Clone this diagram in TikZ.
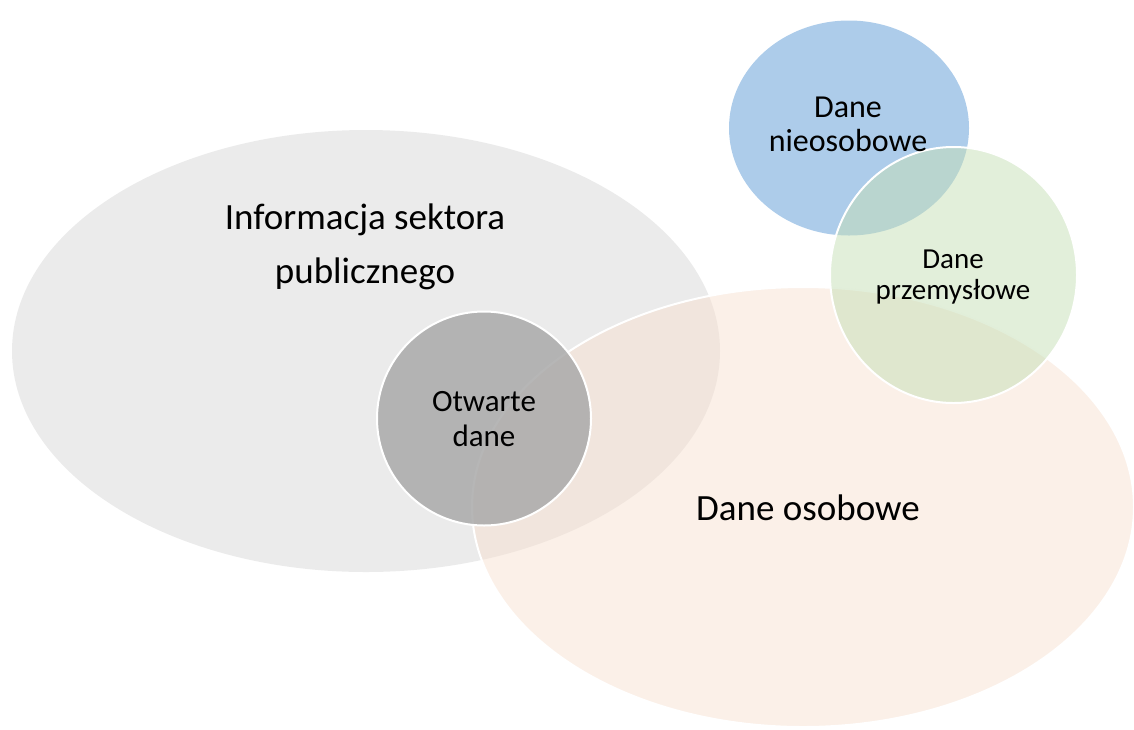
\documentclass[tikz,border=0pt]{standalone}
\usepackage{fontspec}
\setmainfont{Carlito}
\usetikzlibrary{shapes.geometric}
\definecolor{greyfill}{RGB}{235,235,235}
\definecolor{peachfill}{RGB}{247,225,209}
\definecolor{openfill}{RGB}{170,170,170}
\definecolor{bluefill}{RGB}{173,204,234}
\definecolor{greenfill}{RGB}{197,223,181}
\tikzset{
  blob/.style={ellipse, inner sep=0pt, outer sep=0pt, line width=2pt},
  lbl/.style={anchor=base, inner sep=0pt, text=black},
}
\newcommand{\lines}[3]{{\fontsize{#1}{#2}\selectfont\setlength{\tabcolsep}{0pt}\begin{tabular}[t]{c}#3\end{tabular}}}
\begin{document}
\begin{tikzpicture}[x=1pt,y=-1pt]
\useasboundingbox (0,0) rectangle (1134,729);
\node[blob, fill=greyfill, minimum width=708pt, minimum height=442pt] (isp) at (366,351) {};
\node[blob, fill=peachfill, fill opacity=0.5, draw=white, minimum width=662pt, minimum height=440pt] (osob) at (803,507) {};
\node[blob, fill=openfill, fill opacity=0.85, draw=white, minimum width=214pt, minimum height=214pt] (otw) at (484,418.5) {};
\node[blob, fill=bluefill, minimum width=240pt, minimum height=215pt] (nieos) at (849,128) {};
\node[blob, fill=greenfill, fill opacity=0.5, draw=white, minimum width=247pt, minimum height=256pt] (przem) at (953.5,275) {};
\node[lbl] (tisp) at (365,229) {\lines{37}{54}{Informacja sektora\\publicznego}};
\node[lbl] (tosob) at (808,520) {\lines{37}{47}{Dane osobowe}};
\node[lbl] (totw) at (484,411) {\lines{31}{35}{Otwarte\\dane}};
\node[lbl] (tnieos) at (848,117) {\lines{32}{34}{Dane\\nieosobowe}};
\node[lbl] (tprzem) at (953,268) {\lines{29}{31}{Dane\\przemysłowe}};
\end{tikzpicture}
\end{document}
